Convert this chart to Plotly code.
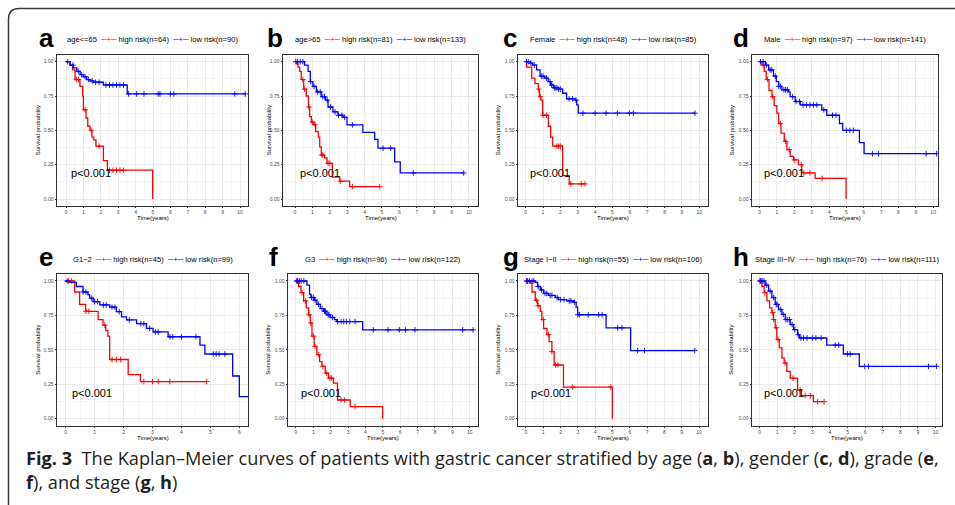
import plotly.graph_objects as go

W, H = 955, 505

# ---------------- data ----------------
panel_letters = ["a", "b", "c", "d", "e", "f", "g", "h"]
group_labels = ["age<=65", "age>65", "Female", "Male", "G1\u22122", "G3",
                "Stage I\u2212II", "Stage III\u2212IV"]
n_high = [64, 81, 48, 97, 45, 96, 55, 76]
n_low = [90, 133, 85, 141, 99, 122, 106, 111]
p_label = "p<0.001"
y_tick_vals = [0, 0.25, 0.5, 0.75, 1.0]
y_tick_text = ["0.00", "0.25", "0.50", "0.75", "1.00"]
x_tick_max = [10, 10, 10, 10, 6, 10, 10, 10]

# step curves: time of each step and survival from that time on; censor times
a_high_t = [0, 0.23, 0.38, 0.52, 0.8, 0.96, 1.0, 1.15, 1.25, 1.38, 1.49, 1.6, 1.72, 2.15, 2.38, 4.98]
a_high_s = [1.0, 0.975, 0.94, 0.87, 0.82, 0.75, 0.65, 0.59, 0.53, 0.50, 0.45, 0.43, 0.385, 0.28, 0.21, 0.0]
a_high_c = [0.6, 0.72, 1.1, 1.45, 1.9, 2.5, 2.7, 2.9, 3.1, 3.3]
a_low_t = [0, 0.23, 0.42, 0.62, 0.81, 1.0, 1.19, 1.38, 1.58, 2.15, 3.52, 10.3]
a_low_s = [1.0, 0.975, 0.955, 0.93, 0.905, 0.89, 0.87, 0.86, 0.85, 0.83, 0.765, 0.765]
a_low_c = [0.1, 0.4, 0.7, 0.9, 1.1, 1.3, 1.5, 1.7, 1.9, 2.3, 2.5, 2.7, 2.9, 3.1, 3.3,
           3.6, 4.06, 4.48, 5.3, 5.4, 6.0, 6.2, 9.7, 10.3]

b_high_t = [0, 0.1, 0.17, 0.27, 0.36, 0.5, 0.65, 0.77, 0.84, 0.94, 1.07, 1.19, 1.34, 1.42,
            1.51, 1.7, 1.84, 2.15, 2.57, 3.14, 4.87]
b_high_s = [1.0, 0.985, 0.96, 0.93, 0.87, 0.80, 0.75, 0.67, 0.60, 0.56, 0.54, 0.49, 0.45, 0.38,
            0.32, 0.30, 0.26, 0.16, 0.13, 0.09, 0.09]
b_high_c = [0.45, 0.55, 0.8, 1.0, 1.15, 1.55, 1.6, 1.9, 2.0, 2.6, 3.3, 4.87]
b_low_t = [0, 0.55, 0.75, 0.88, 1.03, 1.23, 1.51, 1.76, 1.9, 2.18, 2.47, 2.76, 2.99, 3.9,
           4.58, 4.77, 5.73, 6.05, 9.7]
b_low_s = [1.0, 0.975, 0.93, 0.855, 0.82, 0.78, 0.745, 0.72, 0.67, 0.635, 0.61, 0.595, 0.54,
           0.485, 0.435, 0.37, 0.27, 0.19, 0.19]
b_low_c = [0.05, 0.15, 0.3, 0.45, 0.9, 1.1, 1.3, 1.45, 1.6, 1.7, 1.85, 2.05, 2.3, 2.5, 2.7,
           2.85, 3.3, 5.06, 5.5, 6.8, 9.7]

c_high_t = [0, 0.06, 0.35, 0.54, 0.73, 0.79, 0.88, 0.98, 1.31, 1.44, 1.56, 2.13, 2.51, 3.42]
c_high_s = [1.0, 0.96, 0.88, 0.84, 0.80, 0.745, 0.72, 0.61, 0.53, 0.45, 0.385, 0.17, 0.11, 0.11]
c_high_c = [0.75, 0.85, 1.0, 1.2, 1.8, 1.9, 2.0, 2.6, 3.2, 3.42]
c_low_t = [0, 0.25, 0.4, 0.63, 0.83, 1.1, 1.3, 1.44, 1.6, 1.88, 2.13, 2.36, 2.84, 2.94, 3.03, 9.75]
c_low_s = [1.0, 0.99, 0.975, 0.94, 0.895, 0.88, 0.855, 0.83, 0.81, 0.80, 0.77, 0.73, 0.72,
           0.685, 0.625, 0.625]
c_low_c = [0.05, 0.15, 0.3, 0.5, 0.9, 1.0, 1.2, 1.4, 1.5, 1.65, 1.7, 1.8, 1.9, 2.0, 2.5, 2.7,
           2.9, 3.3, 4.0, 4.63, 5.28, 5.97, 6.2, 9.75]

d_high_t = [0, 0.13, 0.27, 0.38, 0.54, 0.71, 0.84, 0.99, 1.09, 1.23, 1.42, 1.57, 1.76, 1.95,
            2.24, 2.43, 3.2, 4.98]
d_high_s = [1.0, 0.975, 0.93, 0.87, 0.79, 0.745, 0.68, 0.625, 0.55, 0.48, 0.42, 0.36, 0.31,
            0.285, 0.25, 0.19, 0.15, 0.0]
d_high_c = [0.2, 0.45, 0.75, 1.2, 1.5, 1.7, 2.0, 2.4, 2.55, 2.9, 3.6]
d_low_t = [0, 0.33, 0.52, 0.8, 0.96, 1.09, 1.28, 1.67, 1.76, 2.05, 2.34, 3.58, 3.87, 4.6, 4.79,
           5.75, 6.02, 10.2]
d_low_s = [1.0, 0.975, 0.94, 0.895, 0.855, 0.82, 0.795, 0.78, 0.745, 0.71, 0.685, 0.65, 0.61,
           0.55, 0.50, 0.41, 0.33, 0.33]
d_low_c = [0.05, 0.2, 0.4, 0.6, 0.7, 0.9, 1.1, 1.2, 1.4, 1.5, 1.6, 1.9, 2.1, 2.3, 2.5, 2.7,
           2.9, 3.1, 3.3, 3.7, 4.2, 4.4, 5.0, 5.2, 5.4, 6.5, 6.85, 9.6, 10.2]

e_high_t = [0, 0.31, 0.48, 0.69, 1.12, 1.29, 1.38, 1.46, 1.52, 2.16, 2.58, 4.87]
e_high_s = [1.0, 0.92, 0.83, 0.78, 0.72, 0.68, 0.64, 0.60, 0.43, 0.32, 0.27, 0.27]
e_high_c = [0.1, 0.2, 0.7, 0.8, 1.35, 1.6, 1.75, 1.9, 2.7, 3.0, 3.2, 3.6, 4.87]
e_low_t = [0, 0.14, 0.37, 0.6, 0.77, 0.83, 0.95, 1.18, 1.52, 1.75, 1.93, 2.1, 2.45, 2.79, 3.02,
           3.54, 4.64, 4.81, 5.77, 6.0, 6.3]
e_low_s = [1.0, 0.99, 0.96, 0.92, 0.90, 0.875, 0.85, 0.826, 0.81, 0.777, 0.74, 0.717, 0.69,
           0.656, 0.63, 0.595, 0.535, 0.47, 0.31, 0.16, 0.16]
e_low_c = [0.05, 0.6, 0.7, 0.9, 1.0, 1.1, 1.3, 1.4, 1.6, 1.7, 1.85, 2.2, 2.6, 2.7, 2.9, 3.1,
           3.2, 3.6, 3.7, 4.0, 4.5, 5.1, 5.2, 5.3, 5.5]

f_high_t = [0, 0.15, 0.29, 0.44, 0.59, 0.73, 0.82, 0.92, 1.05, 1.2, 1.36, 1.49, 1.68, 1.87,
            2.16, 2.39, 3.12, 4.99]
f_high_s = [1.0, 0.96, 0.915, 0.855, 0.805, 0.755, 0.695, 0.60, 0.525, 0.465, 0.415, 0.38,
            0.33, 0.295, 0.258, 0.136, 0.088, 0.0]
f_high_c = [0.05, 0.35, 0.55, 0.75, 0.85, 1.0, 1.1, 1.3, 1.55, 1.75, 1.95, 2.05, 2.6, 2.8, 3.4]
f_low_t = [0, 0.63, 0.78, 0.86, 1.05, 1.2, 1.4, 1.59, 1.78, 1.97, 2.22, 2.35, 3.84, 10.2]
f_low_s = [1.0, 0.97, 0.905, 0.88, 0.86, 0.83, 0.80, 0.78, 0.755, 0.735, 0.72, 0.705, 0.645, 0.645]
f_low_c = [0.05, 0.1, 0.2, 0.3, 0.45, 0.9, 1.0, 1.1, 1.3, 1.5, 1.65, 1.7, 1.85, 1.9, 2.1, 2.4,
           2.6, 2.75, 2.9, 3.1, 3.4, 4.45, 5.3, 5.95, 6.3, 6.85, 9.6, 10.2]

g_high_t = [0, 0.25, 0.35, 0.54, 0.67, 0.83, 0.92, 1.02, 1.21, 1.34, 1.5, 1.63, 2.17, 4.99]
g_high_s = [1.0, 0.985, 0.92, 0.86, 0.82, 0.78, 0.72, 0.655, 0.61, 0.56, 0.487, 0.39, 0.23, 0.0]
g_high_c = [0.05, 0.6, 0.7, 1.0, 1.3, 1.5, 1.7, 1.85, 2.7, 4.9]
g_low_t = [0, 0.54, 0.67, 0.83, 1.02, 1.3, 1.69, 1.88, 2.36, 2.74, 2.9, 2.99, 4.63, 6.05, 9.75]
g_low_s = [1.0, 0.99, 0.96, 0.935, 0.91, 0.895, 0.88, 0.865, 0.855, 0.845, 0.81, 0.755, 0.66,
           0.495, 0.495]
g_low_c = [0.05, 0.1, 0.2, 0.35, 0.45, 0.7, 0.9, 1.1, 1.2, 1.4, 1.5, 1.8, 2.0, 2.2, 2.5, 2.6,
           2.8, 3.0, 3.1, 3.6, 4.2, 4.4, 5.3, 5.55, 6.45, 6.85, 9.75]

h_high_t = [0, 0.13, 0.26, 0.42, 0.57, 0.7, 0.79, 0.89, 0.98, 1.12, 1.27, 1.4, 1.55, 1.74, 2.16,
            2.31, 3.06, 3.67]
h_high_s = [1.0, 0.96, 0.915, 0.855, 0.805, 0.77, 0.72, 0.66, 0.575, 0.515, 0.44, 0.404, 0.343,
            0.294, 0.209, 0.168, 0.124, 0.124]
h_high_c = [0.05, 0.3, 0.75, 0.8, 0.95, 1.05, 1.45, 1.9, 2.3, 2.6, 2.9, 3.3, 3.67]
h_low_t = [0, 0.32, 0.51, 0.7, 0.89, 1.08, 1.27, 1.46, 1.74, 1.93, 2.16, 2.27, 3.82, 4.76, 5.67, 10.06]
h_low_s = [1.0, 0.97, 0.927, 0.88, 0.83, 0.793, 0.757, 0.72, 0.684, 0.647, 0.61, 0.586, 0.535,
           0.47, 0.38, 0.38]
h_low_c = [0.02, 0.08, 0.15, 0.25, 0.4, 0.6, 0.8, 0.95, 1.0, 1.2, 1.35, 1.5, 1.6, 1.7, 1.85,
           2.0, 2.2, 2.35, 2.5, 2.7, 3.0, 3.2, 3.5, 4.3, 4.5, 5.0, 5.15, 5.98, 6.2, 9.6, 10.06]

high_curves = [(a_high_t, a_high_s, a_high_c), (b_high_t, b_high_s, b_high_c),
               (c_high_t, c_high_s, c_high_c), (d_high_t, d_high_s, d_high_c),
               (e_high_t, e_high_s, e_high_c), (f_high_t, f_high_s, f_high_c),
               (g_high_t, g_high_s, g_high_c), (h_high_t, h_high_s, h_high_c)]
low_curves = [(a_low_t, a_low_s, a_low_c), (b_low_t, b_low_s, b_low_c),
              (c_low_t, c_low_s, c_low_c), (d_low_t, d_low_s, d_low_c),
              (e_low_t, e_low_s, e_low_c), (f_low_t, f_low_s, f_low_c),
              (g_low_t, g_low_s, g_low_c), (h_low_t, h_low_s, h_low_c)]

# ---------------- layout geometry (pixels) ----------------
plot_x_px = [(57, 248), (283, 478), (518, 708), (752, 938),
             (57, 248), (288, 478), (518, 708), (752, 942)]
row_y_px = [(54.8, 205.9), (274.1, 425.6)]
x_ranges = [[-0.517, 10.46], [-0.69, 10.52], [-0.44, 10.5], [-0.44, 10.28],
            [-0.3, 6.3], [-0.46, 10.48], [-0.46, 10.52], [-0.43, 10.37]]
letter_x_px = [37, 265, 501, 731, 37, 267, 501, 731]
ytitle_x_px = [38, 269, 498, 732, 38, 268, 498, 731]
legend_y_px = [40, 259]
letter_y_px = [38, 257]
xtitle_y_px = [218.5, 437.5]
caption_center_y_px = 469.5

RED = "#FF0000"
BLUE = "#0000FF"
FONT = "Liberation Sans, Arial, sans-serif"
CAP_FONT = "Open Sans, Liberation Sans, sans-serif"


def px_x(p):
    return p / W


def px_y(p):
    return 1 - p / H


def step_value(ts, ss, c):
    v = ss[0]
    for t, s in zip(ts, ss):
        if t <= c:
            v = s
    return v


fig = go.Figure()
layout_axes = {}
annotations = []

for k in range(8):
    row = k // 4
    xid = "x" if k == 0 else f"x{k + 1}"
    yid = "y" if k == 0 else f"y{k + 1}"
    xname = "xaxis" if k == 0 else f"xaxis{k + 1}"
    yname = "yaxis" if k == 0 else f"yaxis{k + 1}"
    x0, x1 = plot_x_px[k]
    yt, yb = row_y_px[row]

    for (ts, ss, cs), col in ((high_curves[k], RED), (low_curves[k], BLUE)):
        fig.add_trace(go.Scatter(x=ts, y=ss, mode="lines", xaxis=xid, yaxis=yid,
                                 line=dict(shape="hv", color=col, width=1.3),
                                 showlegend=False, hoverinfo="skip"))
        fig.add_trace(go.Scatter(x=cs, y=[step_value(ts, ss, c) for c in cs],
                                 mode="markers", xaxis=xid, yaxis=yid,
                                 marker=dict(symbol="cross-thin", size=4, color=col,
                                             line=dict(color=col, width=0.9)),
                                 showlegend=False, hoverinfo="skip"))

    tickvals = list(range(0, x_tick_max[k] + 1))
    layout_axes[xname] = dict(
        domain=[px_x(x0), px_x(x1)], range=x_ranges[k], anchor=yid,
        tickvals=tickvals, ticktext=[str(v) for v in tickvals],
        ticks="outside", ticklen=1.5, tickwidth=0.7, tickcolor="#333333",
        tickfont=dict(size=5, color="#4D4D4D", family=FONT),
        showgrid=True, gridcolor="#EBEBEB", gridwidth=0.8,
        minor=dict(dtick=0.5, tick0=0, showgrid=True, gridcolor="#F5F5F5", gridwidth=0.5),
        showline=True, mirror=True, linecolor="#333333", linewidth=1,
        zeroline=False, fixedrange=True)
    layout_axes[yname] = dict(
        domain=[px_y(yb), px_y(yt)], range=[-0.05, 1.05], anchor=xid,
        tickvals=y_tick_vals, ticktext=y_tick_text,
        ticks="outside", ticklen=1.5, tickwidth=0.7, tickcolor="#333333",
        tickfont=dict(size=5, color="#4D4D4D", family=FONT),
        showgrid=True, gridcolor="#EBEBEB", gridwidth=0.8,
        minor=dict(dtick=0.125, tick0=0, showgrid=True, gridcolor="#F5F5F5", gridwidth=0.5),
        showline=True, mirror=True, linecolor="#333333", linewidth=1,
        zeroline=False, fixedrange=True)

    # panel letter
    annotations.append(dict(text=f"<b>{panel_letters[k]}</b>", x=px_x(letter_x_px[k]),
                            y=px_y(letter_y_px[row]), xref="paper", yref="paper",
                            xanchor="left", yanchor="middle", showarrow=False,
                            font=dict(size=26, color="#000000", family=FONT)))
    # legend
    leg = (f"{group_labels[k]}  <span style='color:{RED}'>\u2500+\u2500</span>"
           f" high risk(n={n_high[k]})  <span style='color:{BLUE}'>\u2500+\u2500</span>"
           f" low risk(n={n_low[k]})")
    annotations.append(dict(text=leg, x=px_x((x0 + x1) / 2), y=px_y(legend_y_px[row]),
                            xref="paper", yref="paper", xanchor="center", yanchor="middle",
                            showarrow=False, font=dict(size=7.6, color="#000000", family=FONT)))
    # p-value
    annotations.append(dict(text=p_label, x=0.15, y=0.19, xref=xid, yref=yid,
                            xanchor="left", yanchor="middle", showarrow=False,
                            font=dict(size=11, color="#000000", family=FONT)))
    # axis titles
    annotations.append(dict(text="Survival probability", x=px_x(ytitle_x_px[k]),
                            y=px_y((yt + yb) / 2), xref="paper", yref="paper",
                            xanchor="center", yanchor="middle", textangle=-90,
                            showarrow=False, font=dict(size=6, color="#000000", family=FONT)))
    annotations.append(dict(text="Time(years)", x=px_x((x0 + x1) / 2),
                            y=px_y(xtitle_y_px[row]), xref="paper", yref="paper",
                            xanchor="center", yanchor="middle", showarrow=False,
                            font=dict(size=6, color="#000000", family=FONT)))

# caption (two lines, one text block)
caption = ("<b>Fig. 3</b>  The Kaplan\u2013Meier curves of patients with gastric cancer stratified by "
           "age (<b>a</b>, <b>b</b>), gender (<b>c</b>, <b>d</b>), grade (<b>e</b>,<br>"
           "<b>f</b>), and stage (<b>g</b>, <b>h</b>)")
annotations.append(dict(text=caption, x=px_x(24), y=px_y(caption_center_y_px),
                        xref="paper", yref="paper", xanchor="left", yanchor="middle",
                        align="left", showarrow=False,
                        font=dict(size=18.2, color="#231F20", family=CAP_FONT)))

# frame (rounded top-left corner)
frame_path = (f"M {px_x(8.5)},{px_y(505)} L {px_x(8.5)},{px_y(19)} "
              f"Q {px_x(8.5)},{px_y(8.5)} {px_x(19)},{px_y(8.5)} L {px_x(955)},{px_y(8.5)}")

fig.update_layout(
    width=W, height=H, margin=dict(l=0, r=0, t=0, b=0),
    paper_bgcolor="white", plot_bgcolor="white",
    showlegend=False, annotations=annotations,
    shapes=[dict(type="path", path=frame_path, xref="paper", yref="paper",
                 line=dict(color="#3A3A3A", width=1.5))],
    **layout_axes)

fig.write_html("out.html")
